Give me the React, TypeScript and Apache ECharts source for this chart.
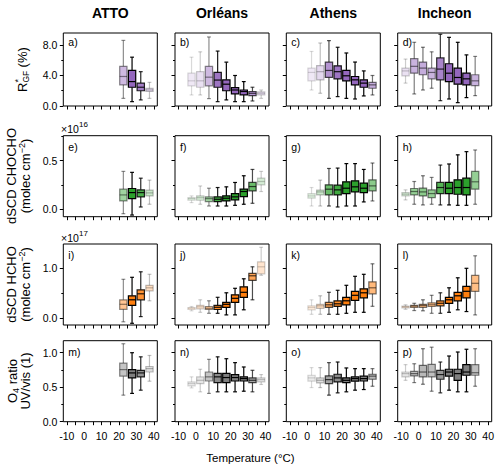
import React, { useEffect, useRef } from 'react';
import * as echarts from 'echarts';

const FONT = '"Liberation Sans", Arial, Helvetica, sans-serif';

const STATIONS = ['ATTO', 'Orléans', 'Athens', 'Incheon'];
const PANEL_LETTERS = ['a)', 'b)', 'c)', 'd)', 'e)', 'f)', 'g)', 'h)', 'i)', 'j)', 'k)', 'l)', 'm)', 'n)', 'o)', 'p)'];

// temperature bin centres (°C)
const TEMPS_ATTO = [22.5, 27.5, 32.5, 37.5];
const TEMPS_ORLEANS = [-2.5, 2.5, 7.5, 12.5, 17.5, 22.5, 27.5, 32.5, 37.5];
const TEMPS_ATHENS = [2.5, 7.5, 12.5, 17.5, 22.5, 27.5, 32.5, 37.5];
const TEMPS_INCHEON = [-7.5, -2.5, 2.5, 7.5, 12.5, 17.5, 22.5, 27.5, 32.5];

// box opacity per bin (sample-size shading)
const ALPHA_ATTO = [0.45, 1, 0.85, 0.25];
const ALPHA_ORLEANS = [0.15, 0.2, 0.45, 0.9, 1, 1, 1, 0.7, 0.2];
const ALPHA_ATHENS = [0.15, 0.25, 0.7, 0.9, 1, 1, 1, 0.55];
const ALPHA_INCHEON = [0.2, 0.5, 0.55, 0.5, 0.8, 1, 1, 1, 0.5];

// [whisker low, Q1, median, Q3, whisker high]
const RGF_ATTO = [[1.0, 2.77, 3.87, 5.2, 8.6], [0.57, 2.46, 3.2, 4.66, 6.4], [0.8, 2.0, 2.46, 3.0, 4.5], [1.0, 1.9, 2.1, 2.3, 3.1]];
const RGF_ORLEANS = [[1.45, 2.64, 3.3, 4.3, 6.4], [1.45, 2.46, 3.3, 4.5, 7.1], [0.97, 2.64, 3.78, 5.2, 9.05], [0.57, 2.46, 3.4, 4.4, 7.2], [0.8, 2.0, 2.86, 3.43, 5.75], [0.57, 1.58, 2.1, 2.4, 4.0], [0.57, 1.45, 1.9, 2.1, 3.2], [0.66, 1.36, 1.67, 1.9, 2.46], [1.0, 1.45, 1.67, 1.85, 2.1]];
const RGF_ATHENS = [[2.1, 3.3, 4.4, 4.97, 7.15], [1.67, 3.43, 4.5, 5.3, 8.26], [1.0, 3.74, 4.66, 5.76, 8.57], [1.23, 3.56, 4.5, 5.27, 7.7], [1.0, 3.3, 3.96, 4.66, 6.95], [0.92, 2.77, 3.43, 3.87, 5.76], [1.32, 2.46, 3.0, 3.43, 4.6], [1.45, 2.33, 2.77, 3.1, 4.0]];
const RGF_INCHEON = [[3.0, 3.96, 4.6, 4.97, 6.15], [1.58, 4.3, 5.2, 6.2, 8.35], [2.1, 4.1, 4.97, 5.76, 7.7], [2.33, 3.56, 4.4, 4.97, 7.1], [0.7, 3.43, 4.84, 6.3, 9.4], [0.92, 3.2, 4.3, 5.54, 9.0], [0.44, 2.86, 3.74, 4.97, 8.35], [1.1, 2.77, 3.56, 4.3, 6.7], [1.36, 2.68, 3.3, 4.1, 6.5]];

// dSCD CHOCHO, units of 1e16 molec cm-2
const CHOCHO_ATTO = [[-0.045, 0.086, 0.148, 0.207, 0.39], [-0.059, 0.11, 0.172, 0.214, 0.38], [0.024, 0.128, 0.172, 0.2, 0.32], [0.052, 0.138, 0.169, 0.197, 0.3]];
const CHOCHO_ORLEANS = [[0.069, 0.093, 0.11, 0.12, 0.138], [0.052, 0.093, 0.12, 0.138, 0.24], [0.034, 0.079, 0.11, 0.128, 0.217], [0.034, 0.079, 0.103, 0.128, 0.224], [0.034, 0.086, 0.114, 0.138, 0.231], [0.041, 0.097, 0.128, 0.162, 0.276], [0.052, 0.131, 0.183, 0.207, 0.345], [0.062, 0.19, 0.234, 0.276, 0.41], [0.183, 0.252, 0.286, 0.32, 0.39]];
const CHOCHO_ATHENS = [[0.034, 0.114, 0.138, 0.162, 0.224], [0.034, 0.148, 0.179, 0.197, 0.3], [0.034, 0.148, 0.207, 0.252, 0.42], [0.024, 0.148, 0.2, 0.248, 0.424], [0.034, 0.162, 0.217, 0.283, 0.47], [0.034, 0.179, 0.231, 0.293, 0.47], [0.076, 0.172, 0.217, 0.269, 0.41], [0.086, 0.19, 0.241, 0.303, 0.476]];
const CHOCHO_INCHEON = [[0.097, 0.138, 0.155, 0.172, 0.2], [0.052, 0.148, 0.183, 0.214, 0.286], [0.045, 0.138, 0.179, 0.217, 0.345], [0.052, 0.12, 0.162, 0.2, 0.328], [0.045, 0.162, 0.224, 0.276, 0.455], [0.045, 0.162, 0.217, 0.276, 0.466], [0.041, 0.155, 0.224, 0.303, 0.56], [0.041, 0.148, 0.224, 0.32, 0.593], [0.052, 0.207, 0.283, 0.39, 0.61]];

// dSCD HCHO, units of 1e17 molec cm-2
const HCHO_ATTO = [[-0.07, 0.18, 0.28, 0.37, 0.78], [-0.1, 0.26, 0.37, 0.45, 0.82], [0.034, 0.37, 0.49, 0.57, 0.93], [0.35, 0.55, 0.61, 0.66, 0.88]];
const HCHO_ORLEANS = [[0.15, 0.176, 0.2, 0.216, 0.236], [0.12, 0.19, 0.23, 0.26, 0.37], [0.1, 0.176, 0.2, 0.236, 0.35], [0.1, 0.176, 0.22, 0.257, 0.42], [0.068, 0.22, 0.28, 0.32, 0.51], [0.068, 0.32, 0.4, 0.47, 0.6], [0.17, 0.42, 0.52, 0.63, 0.79], [0.37, 0.76, 0.85, 0.9, 1.03], [0.86, 0.89, 1.03, 1.13, 1.42]];
const HCHO_ATHENS = [[0.08, 0.17, 0.216, 0.25, 0.37], [0.08, 0.2, 0.25, 0.28, 0.45], [0.08, 0.22, 0.27, 0.32, 0.52], [0.08, 0.24, 0.29, 0.35, 0.56], [0.1, 0.27, 0.35, 0.42, 0.66], [0.12, 0.36, 0.46, 0.54, 0.84], [0.12, 0.41, 0.51, 0.59, 0.88], [0.24, 0.49, 0.61, 0.73, 1.09]];
const HCHO_INCHEON = [[0.18, 0.21, 0.23, 0.243, 0.27], [0.155, 0.216, 0.243, 0.26, 0.3], [0.15, 0.22, 0.257, 0.28, 0.37], [0.1, 0.236, 0.27, 0.31, 0.46], [0.1, 0.25, 0.3, 0.35, 0.51], [0.12, 0.3, 0.37, 0.42, 0.61], [0.17, 0.35, 0.45, 0.52, 0.81], [0.135, 0.41, 0.54, 0.64, 1.0], [0.068, 0.54, 0.7, 0.86, 1.25]];

// O4 ratio UV/vis
const O4_ATTO = [[0.385, 0.66, 0.755, 0.85, 1.13], [0.41, 0.635, 0.707, 0.755, 1.0], [0.457, 0.65, 0.707, 0.745, 0.94], [0.587, 0.72, 0.77, 0.8, 0.96]];
const O4_ORLEANS = [[0.49, 0.52, 0.553, 0.577, 0.65], [0.433, 0.553, 0.6, 0.65, 0.76], [0.41, 0.59, 0.65, 0.72, 0.904], [0.433, 0.567, 0.65, 0.7, 0.94], [0.433, 0.567, 0.64, 0.7, 0.913], [0.433, 0.59, 0.64, 0.683, 0.856], [0.442, 0.59, 0.625, 0.65, 0.793], [0.433, 0.567, 0.6, 0.635, 0.745], [0.54, 0.577, 0.61, 0.635, 0.683]];
const O4_ATHENS = [[0.495, 0.587, 0.635, 0.673, 0.784], [0.495, 0.562, 0.6, 0.635, 0.784], [0.385, 0.553, 0.61, 0.663, 0.856], [0.418, 0.577, 0.635, 0.688, 0.865], [0.433, 0.567, 0.6, 0.635, 0.779], [0.457, 0.587, 0.625, 0.65, 0.769], [0.466, 0.59, 0.625, 0.66, 0.769], [0.514, 0.615, 0.66, 0.688, 0.769]];
const O4_INCHEON = [[0.6, 0.65, 0.697, 0.72, 0.827], [0.567, 0.663, 0.697, 0.73, 0.84], [0.543, 0.65, 0.72, 0.817, 1.058], [0.442, 0.65, 0.72, 0.832, 1.08], [0.418, 0.615, 0.683, 0.745, 0.865], [0.457, 0.66, 0.72, 0.76, 0.952], [0.433, 0.6, 0.697, 0.76, 1.01], [0.433, 0.673, 0.72, 0.827, 1.05], [0.514, 0.673, 0.71, 0.827, 1.058]];

const ROW_COLORS = ['#9467bd', '#2ca02c', '#ff7f0e', '#7f7f7f'];

const X_TICKS = [-10, -5, 0, 5, 10, 15, 20, 25, 30, 35, 40];
const X_LABELS = [-10, 0, 10, 20, 30, 40];

const Y_MAJOR_RGF = [0, 4, 8];
const Y_MINOR_RGF = [2, 6];
const Y_MAJOR_CHOCHO = [0, 0.5];
const Y_MINOR_CHOCHO = [0.25, 0.75];
const Y_MAJOR_HCHO = [0, 1];
const Y_MINOR_HCHO = [0.5];
const Y_MAJOR_O4 = [0, 0.5, 1];
const Y_MINOR_O4 = [0.25, 0.75];

const STATION_TEMPS = [TEMPS_ATTO, TEMPS_ORLEANS, TEMPS_ATHENS, TEMPS_INCHEON];
const STATION_ALPHA = [ALPHA_ATTO, ALPHA_ORLEANS, ALPHA_ATHENS, ALPHA_INCHEON];
const ROW_STATS = [
  [RGF_ATTO, RGF_ORLEANS, RGF_ATHENS, RGF_INCHEON],
  [CHOCHO_ATTO, CHOCHO_ORLEANS, CHOCHO_ATHENS, CHOCHO_INCHEON],
  [HCHO_ATTO, HCHO_ORLEANS, HCHO_ATHENS, HCHO_INCHEON],
  [O4_ATTO, O4_ORLEANS, O4_ATHENS, O4_INCHEON],
];
const ROW_Y = [
  { min: 0, max: 9.57, major: Y_MAJOR_RGF, minor: Y_MINOR_RGF },
  { min: -0.076, max: 0.757, major: Y_MAJOR_CHOCHO, minor: Y_MINOR_CHOCHO },
  { min: -0.134, max: 1.486, major: Y_MAJOR_HCHO, minor: Y_MINOR_HCHO },
  { min: 0, max: 1.174, major: Y_MAJOR_O4, minor: Y_MINOR_O4 },
];

// layout
const COL_LEFT = [63.3, 175, 286.3, 397.7];
const ROW_TOP = [33, 135.7, 244, 340.7];
const ROW_H = [73, 81, 81, 81];
const LETTER_DY = [8.5, 11, 11, 11.5];
const PANEL_W = 94;
const BOX_WIDTH = 4.2;
const CAP_WIDTH = 2.2;
const EDGE = '#000';
const TICK_FS = 10.5;
const LABEL_FS = 13;

function makeRenderItem(color: string) {
  return (params: any, api: any) => {
    const x = api.value(0);
    const lo = api.coord([x, api.value(1)]);
    const q1 = api.coord([x, api.value(2)]);
    const md = api.coord([x, api.value(3)]);
    const q3 = api.coord([x, api.value(4)]);
    const hi = api.coord([x, api.value(5)]);
    const op = api.value(6);
    const w = api.size([BOX_WIDTH, 0])[0];
    const cw = api.size([CAP_WIDTH, 0])[0];
    const cx = md[0];
    const line = (x1: number, y1: number, x2: number, y2: number, lw: number) => ({
      type: 'line',
      shape: { x1, y1, x2, y2 },
      style: { stroke: EDGE, lineWidth: lw, opacity: op, fill: null },
    });
    return {
      type: 'group',
      children: [
        line(cx, hi[1], cx, q3[1], 1.2),
        line(cx, q1[1], cx, lo[1], 1.2),
        line(cx - cw / 2, hi[1], cx + cw / 2, hi[1], 1.2),
        line(cx - cw / 2, lo[1], cx + cw / 2, lo[1], 1.2),
        {
          type: 'rect',
          shape: { x: cx - w / 2, y: q3[1], width: w, height: q1[1] - q3[1] },
          style: { fill: color, stroke: EDGE, lineWidth: 1.2, opacity: op },
        },
        line(cx - w / 2, md[1], cx + w / 2, md[1], 1.2),
      ],
    };
  };
}

function txt(text: string, x: number, y: number, fontSize: number, align = 'left', vAlign = 'middle', extra: any = {}) {
  return {
    type: 'text',
    x,
    y,
    silent: true,
    style: {
      text,
      fontSize,
      fontFamily: FONT,
      fill: '#000',
      align,
      verticalAlign: vAlign,
      textAlign: align,
      textVerticalAlign: vAlign,
      ...extra,
    },
  };
}

const RICH = {
  n: { fontSize: LABEL_FS, lineHeight: 16, fontFamily: FONT, fill: '#000' },
  sup: { fontSize: 9, lineHeight: 8, verticalAlign: 'top', fontFamily: FONT, fill: '#000' },
  sub: { fontSize: 9, lineHeight: 8, verticalAlign: 'bottom', fontFamily: FONT, fill: '#000' },
};

function rotLabel(text: string, x: number, y: number) {
  return {
    type: 'text',
    x,
    y,
    rotation: Math.PI / 2,
    silent: true,
    style: {
      text,
      rich: RICH,
      fontSize: LABEL_FS,
      fontFamily: FONT,
      fill: '#000',
      align: 'center',
      verticalAlign: 'middle',
      textAlign: 'center',
      textVerticalAlign: 'middle',
    },
  };
}

function buildOption() {
  const grid: any[] = [];
  const xAxis: any[] = [];
  const yAxis: any[] = [];
  const series: any[] = [];
  const graphic: any[] = [];

  for (let r = 0; r < 4; r++) {
    for (let c = 0; c < 4; c++) {
      const g = r * 4 + c;
      grid.push({
        left: COL_LEFT[c],
        top: ROW_TOP[r],
        width: PANEL_W,
        height: ROW_H[r],
        show: true,
        borderColor: '#000',
        borderWidth: 1,
        backgroundColor: 'transparent',
        containLabel: false,
        outerBoundsMode: 'none',
      });
      xAxis.push({
        gridIndex: g,
        type: 'value',
        min: -12,
        max: 42,
        position: 'bottom',
        splitLine: { show: false },
        axisLine: { show: false, onZero: false },
        axisTick: { show: true, length: 3.5, customValues: X_TICKS, lineStyle: { color: '#000', width: 1 } },
        axisLabel: {
          show: r === 3,
          customValues: X_LABELS,
          fontSize: TICK_FS,
          fontFamily: FONT,
          color: '#000',
          margin: 9,
        },
      });
      const ys = ROW_Y[r];
      yAxis.push({
        gridIndex: g,
        type: 'value',
        min: ys.min,
        max: ys.max,
        position: 'left',
        splitLine: { show: false },
        axisLine: { show: false, onZero: false },
        axisTick: { show: true, length: 3.5, customValues: ys.major, lineStyle: { color: '#000', width: 1 } },
        axisLabel: {
          show: c === 0,
          customValues: ys.major,
          formatter: (v: number) => v.toFixed(1),
          fontSize: TICK_FS,
          fontFamily: FONT,
          color: '#000',
          margin: 6,
        },
      });
      yAxis.push({
        gridIndex: g,
        type: 'value',
        min: ys.min,
        max: ys.max,
        position: 'left',
        splitLine: { show: false },
        axisLine: { show: false, onZero: false },
        axisTick: { show: true, length: 2, customValues: ys.minor, lineStyle: { color: '#000', width: 1 } },
        axisLabel: { show: false },
      });
      const temps = STATION_TEMPS[c];
      const alphas = STATION_ALPHA[c];
      const stats = ROW_STATS[r][c];
      const data = stats.map((s, i) => [temps[i], s[0], s[1], s[2], s[3], s[4], alphas[i]]);
      series.push({
        type: 'custom',
        xAxisIndex: g,
        yAxisIndex: 2 * g,
        silent: true,
        encode: { x: 0, y: [1, 2, 3, 4, 5] },
        data,
        renderItem: makeRenderItem(ROW_COLORS[r]),
      });
      graphic.push(txt(PANEL_LETTERS[g], COL_LEFT[c] + 5, ROW_TOP[r] + LETTER_DY[r], 10.5));
    }
  }

  // column titles
  STATIONS.forEach((s, c) => {
    graphic.push(txt(s, COL_LEFT[c] + PANEL_W / 2, 12.5, 14, 'center', 'middle', { fontWeight: 'bold' }));
  });

  // offset texts
  graphic.push(txt('×10', 61, 129, 10.5, 'left', 'middle'));
  graphic.push(txt('16', 79, 124.5, 8, 'left', 'middle'));
  graphic.push(txt('×10', 61, 238, 10.5, 'left', 'middle'));
  graphic.push(txt('17', 79, 233.5, 8, 'left', 'middle'));

  // y labels
  graphic.push({
    type: 'group',
    x: 22.5,
    y: 70,
    rotation: Math.PI / 2,
    children: [
      txt('R', -22, 0, LABEL_FS),
      txt('*', -12.6, -4.5, 9),
      txt('GF', -12.6, 3.8, 8.5),
      txt('(%)', 2.6, 0, LABEL_FS),
    ],
  });
  graphic.push(rotLabel('{n|dSCD CHOCHO}', 11, 176));
  graphic.push(rotLabel('{n|(molec cm}{sup|−2}{n|)}', 25, 176));
  graphic.push(rotLabel('{n|dSCD HCHO}', 11, 284.5));
  graphic.push(rotLabel('{n|(molec cm}{sup|−2}{n|)}', 25, 284.5));
  graphic.push(rotLabel('{n|O}{sub|4}{n| ratio}', 12, 381));
  graphic.push(rotLabel('{n|UV/vis (1)}', 25, 381));

  // x label
  graphic.push(txt('Temperature (°C)', 250.5, 458, 11.5, 'center', 'middle'));

  return {
    animation: false,
    backgroundColor: '#fff',
    textStyle: { fontFamily: FONT },
    grid,
    xAxis,
    yAxis,
    series,
    graphic: { elements: graphic },
  };
}

export default function App() {
  const ref = useRef<HTMLDivElement>(null);
  useEffect(() => {
    if (!ref.current) return;
    const chart = echarts.init(ref.current, null, { renderer: 'svg' });
    chart.setOption(buildOption() as any);
    return () => chart.dispose();
  }, []);
  return (
    <div
      ref={ref}
      style={{ position: 'fixed', left: 0, top: 0, width: 500, height: 469, background: '#fff' }}
    />
  );
}
